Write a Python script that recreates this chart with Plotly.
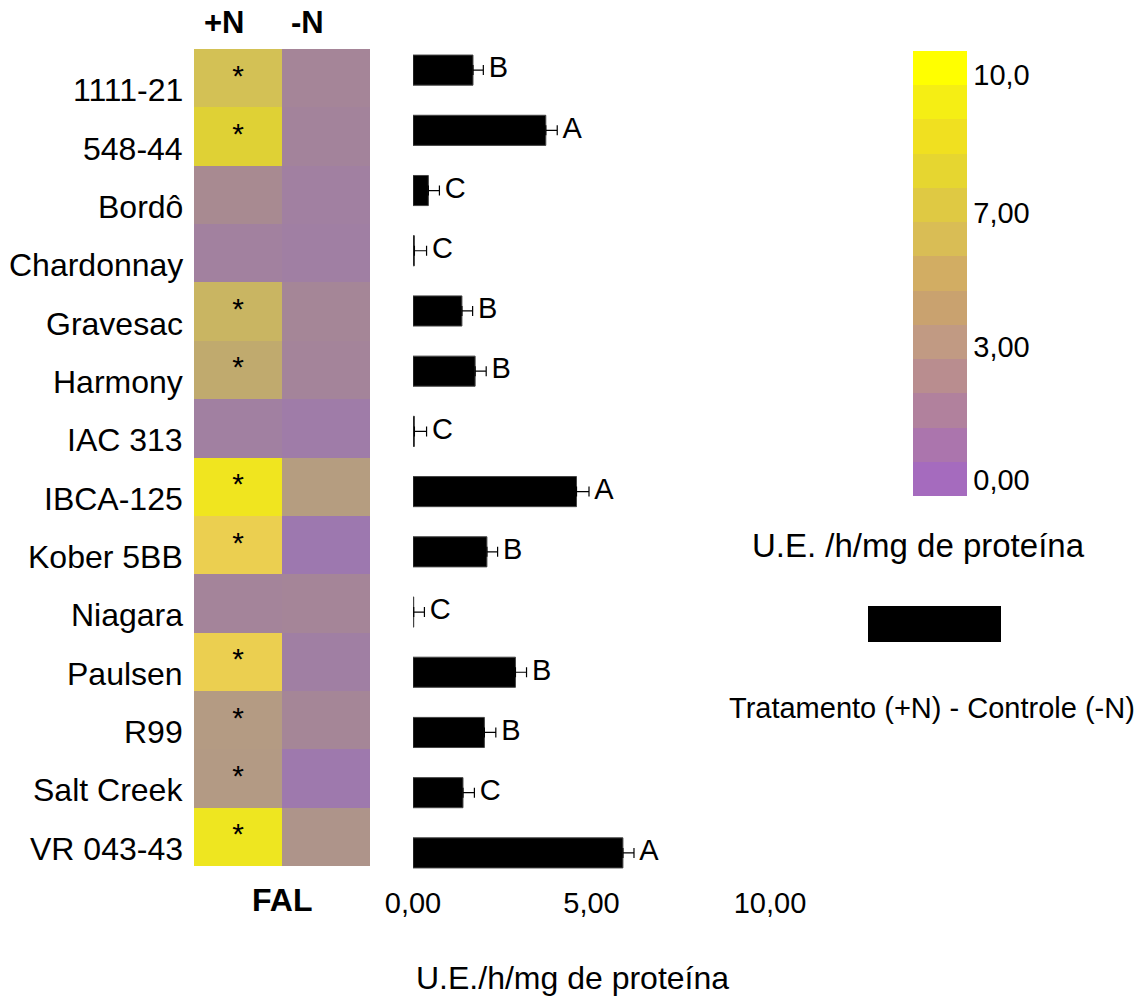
import plotly.graph_objects as go

W, H = 1145, 996

# Cultivars (top to bottom)
cultivars = ["1111-21", "548-44", "Bordô", "Chardonnay", "Gravesac", "Harmony",
             "IAC 313", "IBCA-125", "Kober 5BB", "Niagara", "Paulsen", "R99",
             "Salt Creek", "VR 043-43"]

# FAL activity (U.E./h/mg de proteína) with (+N) and without (-N) nitrogen
fal_plus_n = [5.4, 6.8, 2.1, 1.2, 4.8, 4.1, 1.1, 8.5, 6.0, 1.5, 6.0, 3.2, 3.1, 8.0]
fal_minus_n = [1.6, 1.4, 1.1, 1.0, 1.7, 1.5, 0.8, 3.3, 0.5, 1.6, 1.0, 1.7, 0.6, 2.7]
significant = [True, True, False, False, True, True, False, True, True, False,
               True, True, True, True]

# Difference Tratamento (+N) - Controle (-N), its error and test letters
diff_values = [1.68, 3.72, 0.43, 0.04, 1.37, 1.74, 0.04, 4.58, 2.07, 0.02, 2.87, 2.00, 1.40, 5.88]
diff_errors = [0.29, 0.32, 0.31, 0.34, 0.30, 0.31, 0.34, 0.35, 0.30, 0.30, 0.31, 0.32, 0.32, 0.31]
letters = ["B", "A", "C", "C", "B", "B", "C", "A", "B", "C", "B", "B", "C", "A"]

bar_ticks = [0, 5, 10]
bar_ticktext = ["0,00", "5,00", "10,00"]

legend_ticktext = ["0,00", "3,00", "7,00", "10,0"]
legend_tickvals = [0.47, 4.35, 8.27, 12.3]
legend_steps = ["#a56bbe", "#ab75ad", "#b1819d", "#b98d8f", "#c19a83", "#c9a26f",
                "#d2ad63", "#d9bd55", "#dfc943", "#e6d630", "#f0e020", "#f5ee14", "#ffff00"]

FONT = "Liberation Sans, Arial, sans-serif"
LETTER_GAP = 0.15  # gap between whisker end and letter, in axis units


def px_x(p):
    return p / W


def px_y(p):
    return 1 - p / H


heat_scale = [
    [0.00, "#9a74b6"], [0.06, "#9e79ad"], [0.10, "#a07fa3"], [0.14, "#a3839b"],
    [0.18, "#a68795"], [0.22, "#a98b90"], [0.27, "#ae948a"], [0.32, "#b49b83"],
    [0.38, "#bca573"], [0.43, "#c3ae6a"], [0.48, "#c9b562"], [0.54, "#d3c155"],
    [0.60, "#ebcf50"], [0.68, "#dfd135"], [0.80, "#eee620"], [0.85, "#f0e51f"],
    [1.00, "#ffff00"],
]

z = [[p, m] for p, m in zip(fal_plus_n, fal_minus_n)]
n_rows = len(cultivars)

fig = go.Figure()

fig.add_trace(go.Heatmap(
    z=z, x=["+N", "-N"], y=cultivars, zmin=0, zmax=10,
    colorscale=heat_scale, showscale=False, xgap=0, ygap=0,
    hoverinfo="skip", xaxis="x", yaxis="y",
))

star_y = [c for c, s in zip(cultivars, significant) if s]
fig.add_trace(go.Scatter(
    x=["+N"] * len(star_y), y=star_y, mode="text", text=["*"] * len(star_y),
    textfont=dict(size=30, color="black", family=FONT), textposition="middle center",
    showlegend=False, hoverinfo="skip", xaxis="x", yaxis="y",
))

fig.add_trace(go.Bar(
    x=diff_values, y=cultivars, orientation="h", width=0.5,
    marker=dict(color="black", line=dict(color="#444444", width=1)),
    error_x=dict(type="data", array=diff_errors, arrayminus=[0] * len(diff_errors),
                 symmetric=False, color="black", thickness=1.2, width=5),
    showlegend=False, xaxis="x2", yaxis="y2",
))

fig.add_trace(go.Scatter(
    x=[v + e + LETTER_GAP for v, e in zip(diff_values, diff_errors)], y=cultivars,
    mode="text", text=letters, textposition="middle right",
    textfont=dict(size=29, color="black", family=FONT),
    showlegend=False, hoverinfo="skip", xaxis="x2", yaxis="y2",
))

# stepped colour legend
step_scale = []
n = len(legend_steps)
for i, c in enumerate(legend_steps):
    step_scale.append([i / n, c])
    step_scale.append([(i + 1) / n, c])

fig.add_trace(go.Scatter(
    x=[None], y=[None], mode="markers", showlegend=False, hoverinfo="skip",
    marker=dict(color=[0], cmin=0, cmax=n, colorscale=step_scale, showscale=True,
                colorbar=dict(
                    x=px_x(913), xanchor="left", y=px_y(51), yanchor="top",
                    len=445, lenmode="pixels", thickness=54, thicknessmode="pixels",
                    xpad=0, ypad=0, outlinewidth=0, ticks="",
                    tickvals=legend_tickvals, ticktext=legend_ticktext,
                    tickfont=dict(size=29, color="black", family=FONT),
                )),
    xaxis="x2", yaxis="y2",
))

annotations = []
for c in cultivars:
    annotations.append(dict(
        x=px_x(185), xref="paper", y=c, yref="y", yshift=-12,
        text=c, showarrow=False, xanchor="right", yanchor="middle",
        font=dict(size=32, color="black", family=FONT),
    ))

for txt, xp in [("+N", 225), ("-N", 307)]:
    annotations.append(dict(
        x=px_x(xp), y=px_y(23), xref="paper", yref="paper", text=f"<b>{txt}</b>",
        showarrow=False, xanchor="center", yanchor="middle",
        font=dict(size=31, color="black", family=FONT),
    ))

annotations += [
    dict(x=px_x(282), y=px_y(900), xref="paper", yref="paper", text="<b>FAL</b>",
         showarrow=False, xanchor="center", yanchor="middle",
         font=dict(size=32, color="black", family=FONT)),
    dict(x=px_x(572), y=px_y(978), xref="paper", yref="paper",
         text="U.E./h/mg de proteína", showarrow=False, xanchor="center", yanchor="middle",
         font=dict(size=32, color="black", family=FONT)),
    dict(x=px_x(918), y=px_y(545), xref="paper", yref="paper",
         text="U.E. /h/mg de proteína", showarrow=False, xanchor="center", yanchor="middle",
         font=dict(size=33, color="black", family=FONT)),
    dict(x=px_x(932), y=px_y(708), xref="paper", yref="paper",
         text="Tratamento (+N) - Controle (-N)", showarrow=False, xanchor="center",
         yanchor="middle", font=dict(size=29, color="black", family=FONT)),
]

fig.update_layout(
    width=W, height=H,
    margin=dict(l=0, r=0, t=0, b=0, pad=0, autoexpand=False),
    paper_bgcolor="white", plot_bgcolor="rgba(0,0,0,0)",
    font=dict(family=FONT, color="black"),
    showlegend=False,
    annotations=annotations,
    shapes=[dict(type="rect", xref="paper", yref="paper",
                 x0=px_x(868), x1=px_x(1001), y0=px_y(642), y1=px_y(606),
                 fillcolor="black", line=dict(width=0))],
    xaxis=dict(domain=[px_x(194), px_x(370)], range=[-0.5, 1.5], showticklabels=False,
               showgrid=False, zeroline=False, showline=False, ticks="", fixedrange=True),
    yaxis=dict(domain=[px_y(866), px_y(49)], range=[n_rows - 0.5, -0.5],
               showticklabels=False, showgrid=False, zeroline=False, showline=False,
               ticks="", fixedrange=True),
    xaxis2=dict(domain=[px_x(413), px_x(770)], range=[0, 10], tickvals=bar_ticks,
                ticktext=bar_ticktext, showgrid=False, zeroline=False, showline=False,
                ticks="", tickfont=dict(size=29, color="black", family=FONT),
                anchor="y2", fixedrange=True),
    yaxis2=dict(domain=[px_y(883), px_y(40)], showticklabels=False, showgrid=False,
                zeroline=False, showline=False, ticks="", range=[n_rows - 0.5, -0.5],
                anchor="x2", fixedrange=True),
)

fig.write_html("out.html")
